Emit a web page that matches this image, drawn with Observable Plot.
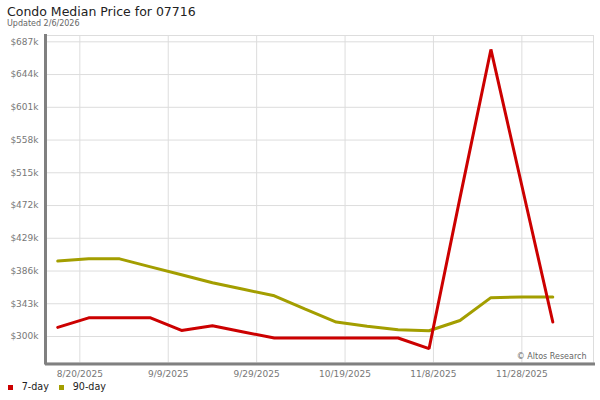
<!DOCTYPE html>
<html>
<head>
<meta charset="utf-8">
<script src="https://cdn.jsdelivr.net/npm/d3@7"></script>
<script src="https://cdn.jsdelivr.net/npm/@observablehq/plot@0.6"></script>
<style>
  html, body { margin: 0; padding: 0; background: white; }
  body { position: relative; width: 600px; height: 400px; overflow: hidden; font-family: "DejaVu Sans", sans-serif; }
  #title { position: absolute; left: 7px; top: 4px; font-size: 12.5px; color: #222; white-space: nowrap; line-height: 15px; }
  #sub { position: absolute; left: 7px; top: 19px; font-size: 8px; color: #666; white-space: nowrap; line-height: 10px; }
  #chart { position: absolute; left: 0; top: 30px; }
  #legend { position: absolute; left: 0; top: 381px; font-size: 9.6px; color: #222; line-height: 12px; }
  .item { position: absolute; top: 0; white-space: nowrap; }
  .sw { position: absolute; width: 5px; height: 5px; top: 3.5px; }
</style>
</head>
<body>
<div id="title">Condo Median Price for 07716</div>
<div id="sub">Updated 2/6/2026</div>
<div id="chart"></div>
<div id="legend"></div>
<script>
const dates = ["2025-08-15","2025-08-22","2025-08-29","2025-09-05","2025-09-12","2025-09-19","2025-09-26","2025-10-03","2025-10-10","2025-10-17","2025-10-24","2025-10-31","2025-11-07","2025-11-14","2025-11-21","2025-11-28","2025-12-05"];
const sevenDay = [312, 324.5, 324.5, 324.5, 308, 314, 306, 298, 298, 298, 298, 298, 284, 482, 677, 498, 319];
const ninetyDay = [399, 402, 402, 391.5, 381, 370.5, 362, 353.5, 336, 319, 313.5, 309, 307.5, 321, 351, 352, 352];
const xTicks = ["2025-08-20","2025-09-09","2025-09-29","2025-10-19","2025-11-08","2025-11-28"];
const yTicks = [300, 343, 386, 429, 472, 515, 558, 601, 644, 687];
const seriesNames = ["7-day", "90-day"];
const seriesColors = ["#cc0000", "#a39e00"];

const parse = d3.utcParse("%Y-%m-%d");
const seven = dates.map((d, i) => ({date: parse(d), value: sevenDay[i]}));
const ninety = dates.map((d, i) => ({date: parse(d), value: ninetyDay[i]}));
const xt = xTicks.map(parse);
const fmt = d => `${d.getUTCMonth() + 1}/${d.getUTCDate()}/${d.getUTCFullYear()}`;

const chart = Plot.plot({
  width: 600,
  height: 352,
  marginTop: 5,
  marginBottom: 19.5,
  marginLeft: 46,
  marginRight: 7,
  style: {fontFamily: "DejaVu Sans", fontSize: "9px", color: "#777", background: "white", overflow: "visible"},
  x: {type: "utc", domain: [new Date(Date.UTC(2025, 7, 12, 11)), new Date(Date.UTC(2025, 11, 14, 5))], label: null},
  y: {domain: [265.2, 695.3], label: null},
  marks: [
    Plot.gridX(xt, {stroke: "#dddddd", strokeOpacity: 1}),
    Plot.gridY(yTicks, {stroke: "#dddddd", strokeOpacity: 1}),
    Plot.frame({stroke: "#dddddd"}),
    Plot.axisX(xt, {tickSize: 0, tickPadding: 8, tickFormat: fmt, label: null, fill: "#777"}),
    Plot.axisY(yTicks, {tickSize: 0, tickPadding: 8, tickFormat: d => `$${d}k`, label: null, fill: "#777"}),
    Plot.line(ninety, {x: "date", y: "value", stroke: seriesColors[1], strokeWidth: 3, strokeLinejoin: "miter"}),
    Plot.line(seven, {x: "date", y: "value", stroke: seriesColors[0], strokeWidth: 3, strokeLinejoin: "miter"}),
    Plot.frame({anchor: "left", stroke: "#808080", strokeWidth: 3, dx: -1}),
    Plot.frame({anchor: "bottom", stroke: "#808080", strokeWidth: 3, dy: 1}),
    Plot.text(["© Altos Research"], {frameAnchor: "bottom-right", text: d => d, textAnchor: "end", lineAnchor: "bottom", dx: -7, dy: -4.5, fontSize: 8, fill: "#666"})
  ]
});
document.getElementById("chart").appendChild(chart);

const legend = document.getElementById("legend");
const pos = [[8.3, 21.7], [59.3, 72.7]];
seriesNames.forEach((name, i) => {
  const sw = document.createElement("div");
  sw.className = "sw";
  sw.style.left = pos[i][0] + "px";
  sw.style.background = seriesColors[i];
  legend.appendChild(sw);
  const t = document.createElement("div");
  t.className = "item";
  t.style.left = pos[i][1] + "px";
  t.textContent = name;
  legend.appendChild(t);
});
</script>
</body>
</html>
